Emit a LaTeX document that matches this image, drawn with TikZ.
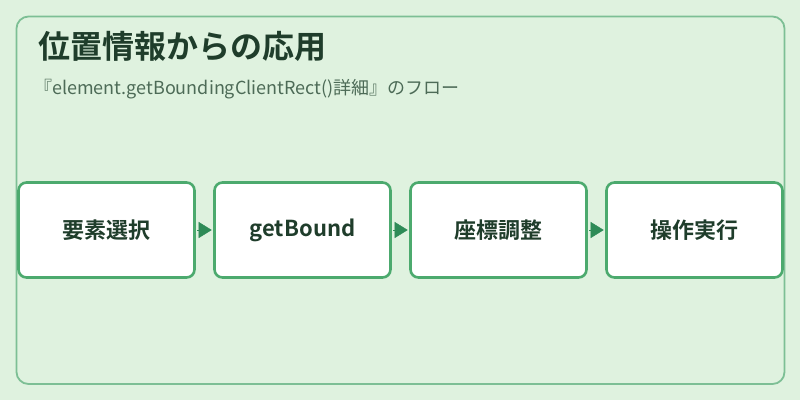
\documentclass[tikz,border=0pt]{standalone}
\usepackage{fontspec}
\setmainfont{Noto Sans CJK JP}[BoldFont={* Bold}]
\usetikzlibrary{arrows.meta,positioning}

\definecolor{fondVert}{HTML}{DFF2DF}
\definecolor{cadreVert}{HTML}{7DBF95}
\definecolor{boiteVert}{HTML}{4CAA6E}
\definecolor{flecheVert}{HTML}{2E8B57}
\definecolor{titreVert}{HTML}{1F3D2B}
\definecolor{sousTitre}{HTML}{4D6B57}

\tikzset{
  etape/.style={draw=boiteVert, line width=2.6pt, fill=white, rounded corners=8pt,
    minimum width=176pt, minimum height=95pt, inner sep=0pt,
    font=\bfseries\fontsize{22}{26}\selectfont, text=titreVert},
  fleche/.style={flecheVert, line width=0.4pt, shorten >=1.5pt, shorten <=1.3pt,
    -{Triangle[length=13pt,width=16pt]}}
}

\begin{document}
\begin{tikzpicture}[x=1pt,y=-1pt]
  % Fond et cadre
  \fill[fondVert] (0,0) rectangle (800,400);
  \useasboundingbox (0,0) rectangle (800,400);
  \draw[cadreVert, line width=1.8pt, rounded corners=12pt] (16.5,16.5) rectangle (784.5,384);

  % Titres
  \node[anchor=west, inner sep=0pt, text=titreVert, font=\bfseries\fontsize{32}{38}\selectfont]
    (titre) at (38,46) {位置情報からの応用};
  \node[anchor=west, inner sep=0pt, text=sousTitre, font=\fontsize{18}{22}\selectfont]
    (soustitre) at (34,89) {『element.getBoundingClientRect()詳細』のフロー};

  % Les quatre étapes
  \foreach \nom/\texte [count=\i] in {selection/要素選択, bound/getBound, coord/座標調整, action/操作実行}
  {
    \node[etape] (\nom) at ({106.5+196*(\i-1)},230) {\texte};
  }

  % Flèches entre les étapes
  \draw[fleche] (selection) -- (bound);
  \draw[fleche] (bound) -- (coord);
  \draw[fleche] (coord) -- (action);
\end{tikzpicture}
\end{document}
